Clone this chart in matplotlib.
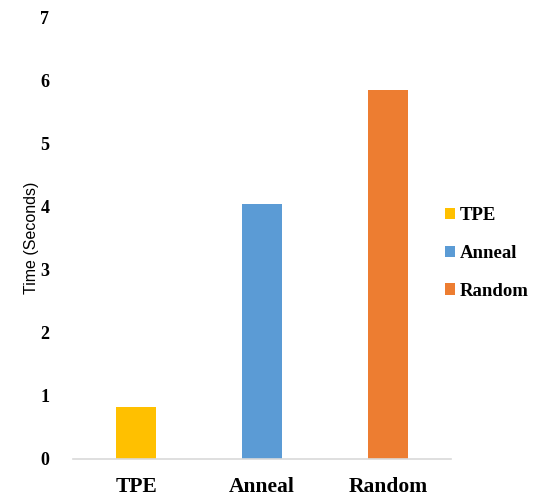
import matplotlib.pyplot as plt
import numpy as np

methods = ['TPE', 'Anneal', 'Random']
times = [0.82, 4.04, 5.85]
colors = ['#FFC000', '#5B9BD5', '#ED7D31']

fig = plt.figure(figsize=(5.33, 5.03), dpi=100)
ax = fig.add_axes([0.137, 0.0875, 0.709, 0.8785])

x = np.arange(len(methods))
bars = ax.bar(x, times, width=0.32, color=colors, label=methods, zorder=2)

ax.set_xlim(-0.5, 2.5)
ax.set_ylim(0, 7)
ax.set_yticks(range(0, 8))
ax.set_xticks(x)
ax.set_xticklabels(methods)

for s in ['top', 'right', 'left']:
    ax.spines[s].set_visible(False)
ax.spines['bottom'].set_color('#D9D9D9')
ax.spines['bottom'].set_linewidth(1.2)
ax.tick_params(length=0)
ax.tick_params(axis='y', pad=17)
ax.tick_params(axis='x', pad=13)

for lbl in ax.get_xticklabels():
    lbl.set_fontfamily('Liberation Serif')
    lbl.set_fontweight('bold')
    lbl.set_fontsize(15.5)
for lbl in ax.get_yticklabels():
    lbl.set_fontfamily('Liberation Serif')
    lbl.set_fontweight('bold')
    lbl.set_fontsize(13)

ax.set_ylabel('Time (Seconds)', family='Liberation Sans', fontsize=11.5, labelpad=1)

leg = ax.legend(bars, methods, loc='center left', bbox_to_anchor=(0.94, 0.465),
                frameon=False, handlelength=0.55, handleheight=0.55, handletextpad=0.25,
                labelspacing=1.1, prop={'family': 'Liberation Serif', 'weight': 'bold', 'size': 13.5})

fig.savefig('out.png', dpi=100)
